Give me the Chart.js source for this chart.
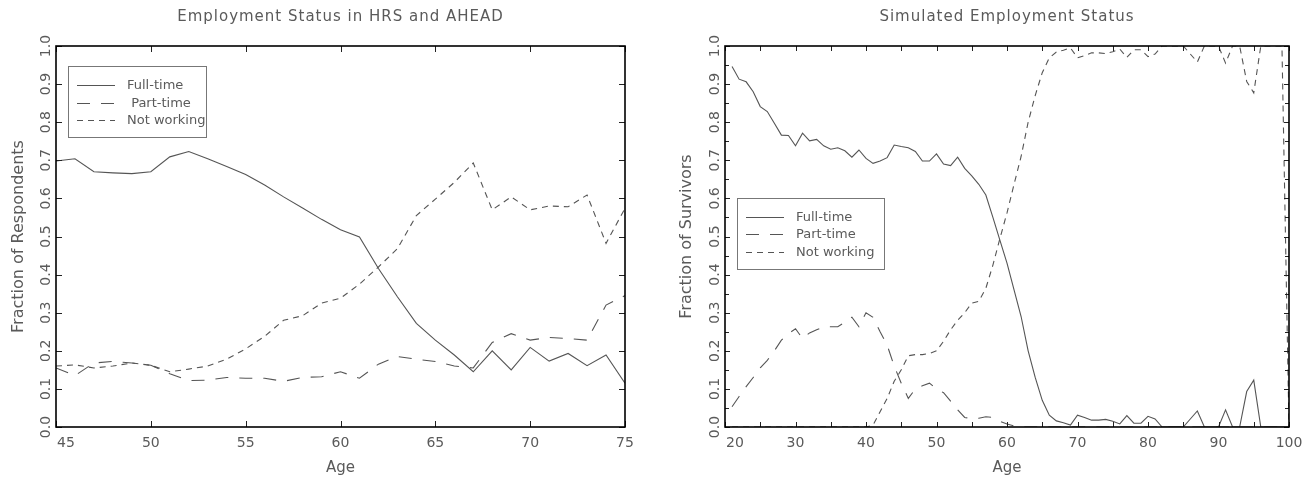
<!DOCTYPE html>
<html>
<head>
<meta charset="utf-8">
<script src="https://cdn.jsdelivr.net/npm/chart.js@4.4.1/dist/chart.umd.min.js"></script>
<style>
  html, body { margin: 0; padding: 0; background: #fff; }
  #wrap { position: relative; width: 1312px; height: 483px; overflow: hidden; }
  canvas { position: absolute; top: 0; }
  #survey { left: 0; }
  #simulated { left: 656px; }
</style>
</head>
<body>
<div id="wrap">
  <canvas id="survey" width="656" height="483"></canvas>
  <canvas id="simulated" width="656" height="483"></canvas>
</div>
<script>
// ---- Survey data (HRS and AHEAD), ages 45-75 ----
const surveyAges = [45,46,47,48,49,50,51,52,53,54,55,56,57,58,59,60,61,62,63,64,65,66,67,68,69,70,71,72,73,74,75];
const surveyFullTime = [0.698,0.704,0.670,0.667,0.665,0.670,0.709,0.723,0.704,0.684,0.663,0.635,0.604,0.575,0.545,0.518,0.499,0.416,0.342,0.272,0.228,0.189,0.145,0.200,0.150,0.209,0.173,0.193,0.161,0.189,0.115];
const surveyPartTime = [0.155,0.135,0.168,0.172,0.168,0.162,0.140,0.122,0.123,0.130,0.128,0.128,0.120,0.130,0.132,0.145,0.128,0.165,0.185,0.178,0.172,0.160,0.155,0.222,0.245,0.228,0.235,0.232,0.228,0.320,0.345];
const surveyNotWorking = [0.160,0.163,0.155,0.160,0.168,0.162,0.145,0.152,0.160,0.178,0.205,0.238,0.280,0.292,0.325,0.338,0.375,0.420,0.468,0.555,0.598,0.642,0.693,0.570,0.604,0.570,0.580,0.578,0.609,0.482,0.574];

// ---- Simulated model, ages 21-100 ----
const simAges = [21,22,23,24,25,26,27,28,29,30,31,32,33,34,35,36,37,38,39,40,41,42,43,44,45,46,47,48,49,50,51,52,53,54,55,56,57,58,59,60,61,62,63,64,65,66,67,68,69,70,71,72,73,74,75,76,77,78,79,80,81,82,83,84,85,86,87,88,89,90,91,92,93,94,95,96,97,98,99,100];
const simFullTime = [0.946,0.913,0.906,0.880,0.841,0.828,0.797,0.766,0.765,0.738,0.771,0.751,0.755,0.738,0.729,0.733,0.725,0.708,0.727,0.705,0.692,0.698,0.707,0.740,0.736,0.733,0.723,0.698,0.698,0.717,0.690,0.686,0.708,0.679,0.659,0.637,0.609,0.550,0.490,0.430,0.360,0.290,0.200,0.130,0.070,0.031,0.016,0.011,0.005,0.031,0.025,0.018,0.018,0.020,0.015,0.008,0.030,0.010,0.010,0.028,0.021,0,0,0,0,0.021,0.042,0,0,0,0.045,0,0,0.093,0.123,0,0,0,0,0];
const simPartTime = [0.053,0.080,0.106,0.130,0.155,0.175,0.200,0.228,0.245,0.258,0.232,0.247,0.255,0.263,0.263,0.263,0.275,0.288,0.263,0.300,0.288,0.250,0.215,0.160,0.115,0.075,0.100,0.108,0.115,0.100,0.090,0.068,0.045,0.025,0.022,0.023,0.027,0.025,0.015,0.008,0.003,0,0,0,0,0,0,0,0,0,0,0,0,0,0,0,0,0,0,0,0,0,0,0,0,0,0,0,0,0,0,0,0,0,0,0,0,0,0,0];
const simNotWorking = [0,0,0,0,0,0,0,0,0,0,0,0,0,0,0,0,0,0,0,0,0.005,0.040,0.075,0.120,0.150,0.187,0.190,0.190,0.193,0.200,0.225,0.255,0.280,0.300,0.325,0.330,0.364,0.425,0.495,0.562,0.637,0.710,0.800,0.870,0.930,0.969,0.984,0.989,0.995,0.969,0.975,0.982,0.982,0.980,0.985,0.992,0.970,0.990,0.990,0.972,0.979,1,1,1,1,0.979,0.958,1,1,1,0.955,1,1,0.907,0.877,1,1,1,1,0];

// ---- Axis ticks and labels ----
const surveyAgeTicks = [45,50,55,60,65,70,75];
const simAgeTicks = [20,30,40,50,60,70,80,90,100];
const simAgeMinorTicks = [25,35,45,55,65,75,85,95];
const fractionTicks = [0,0.1,0.2,0.3,0.4,0.5,0.6,0.7,0.8,0.9,1.0];
const fractionTickLabels = ['0.0','0.1','0.2','0.3','0.4','0.5','0.6','0.7','0.8','0.9','1.0'];
const fractionMinorTicks = [0.05,0.15,0.25,0.35,0.45,0.55,0.65,0.75,0.85,0.95];

const FONT = '"DejaVu Sans", "Liberation Sans", sans-serif';
const INK = '#5a5a5a';
const LINE = '#555';
const DASH_PART = [13, 11];
const DASH_NOT = [6, 5];

// Box frame, inward ticks, rotated tick labels, title and boxed legend.
const framePlugin = {
  id: 'frame',
  afterDatasetsDraw(chart, args, o) {
    const { ctx, chartArea: a } = chart;
    const xs = chart.scales.x, ys = chart.scales.y;
    ctx.save();

    ctx.strokeStyle = '#222';
    ctx.lineWidth = 1;
    ctx.beginPath();
    const xTick = (v, len) => {
      const p = Math.round(xs.getPixelForValue(v)) + 0.5;
      ctx.moveTo(p, a.bottom); ctx.lineTo(p, a.bottom - len);
      ctx.moveTo(p, a.top); ctx.lineTo(p, a.top + len);
    };
    const yTick = (v, len) => {
      const p = Math.round(ys.getPixelForValue(v)) + 0.5;
      ctx.moveTo(a.left, p); ctx.lineTo(a.left + len, p);
      ctx.moveTo(a.right, p); ctx.lineTo(a.right - len, p);
    };
    xs.ticks.forEach(t => xTick(t.value, o.tickLen));
    (o.xMinor || []).forEach(v => xTick(v, o.tickLen));
    ys.ticks.forEach(t => yTick(t.value, o.tickLen));
    (o.yMinor || []).forEach(v => yTick(v, o.minorLen));
    ctx.stroke();

    ctx.strokeStyle = '#000';
    ctx.lineWidth = 1.6;
    ctx.strokeRect(a.left, a.top, a.right - a.left, a.bottom - a.top);

    // x tick labels
    ctx.fillStyle = INK;
    ctx.font = '14px ' + FONT;
    ctx.textBaseline = 'alphabetic';
    xs.ticks.forEach((t, i) => {
      const p = xs.getPixelForValue(t.value);
      ctx.textAlign = i === 0 ? 'left' : 'center';
      ctx.fillText(String(t.value), i === 0 ? p + 1 : p, a.bottom + 20);
    });
    // y tick labels, rotated to read upward
    ys.ticks.forEach((t, i) => {
      const p = ys.getPixelForValue(t.value);
      ctx.save();
      ctx.translate(a.left - 6, p);
      ctx.rotate(-Math.PI / 2);
      ctx.textAlign = 'center';
      ctx.fillText(fractionTickLabels[i], 0, 0);
      ctx.restore();
    });

    // title
    ctx.font = '15px ' + FONT;
    ctx.textAlign = 'center';
    if ('letterSpacing' in ctx) ctx.letterSpacing = '1px';
    ctx.fillText(o.title, (a.left + a.right) / 2, 21);
    if ('letterSpacing' in ctx) ctx.letterSpacing = '0px';

    // legend
    const L = o.legend;
    const bx = a.left + L.dx, by = a.top + L.dy;
    ctx.strokeStyle = '#777';
    ctx.lineWidth = 1;
    ctx.strokeRect(Math.round(bx) + 0.5, Math.round(by) + 0.5, L.w, L.h);
    ctx.font = '13px ' + FONT;
    ctx.textAlign = 'left';
    ctx.textBaseline = 'middle';
    chart.data.datasets.forEach((ds, i) => {
      const ry = Math.round(by + L.row0 + i * L.rowGap) + 0.5;
      ctx.strokeStyle = LINE;
      ctx.setLineDash(ds.borderDash || []);
      ctx.beginPath();
      ctx.moveTo(bx + 9, ry);
      ctx.lineTo(bx + 47, ry);
      ctx.stroke();
      ctx.setLineDash([]);
      ctx.fillText(ds.label, bx + 59, ry);
    });
    ctx.restore();
  }
};

function series(label, ages, values, dash) {
  return {
    label,
    data: ages.map((age, i) => ({ x: age, y: values[i] })),
    borderColor: LINE,
    borderWidth: 1.1,
    borderDash: dash,
    pointRadius: 0,
    tension: 0,
    fill: false
  };
}

function makeChart(id, cfg) {
  return new Chart(document.getElementById(id), {
    type: 'line',
    data: { datasets: cfg.datasets },
    plugins: [framePlugin],
    options: {
      responsive: false,
      animation: false,
      devicePixelRatio: 1,
      layout: { padding: { top: 46, right: cfg.padRight, bottom: 0, left: 0 } },
      plugins: {
        legend: { display: false },
        tooltip: { enabled: false },
        frame: cfg.frame
      },
      scales: {
        x: {
          type: 'linear',
          min: cfg.xMin, max: cfg.xMax,
          grid: { display: false },
          border: { display: false },
          ticks: { display: false },
          afterBuildTicks: s => { s.ticks = cfg.xTicks.map(v => ({ value: v })); },
          afterFit: s => { s.height = 56; },
          title: {
            display: true, text: 'Age', color: INK,
            font: { family: FONT, size: 15 },
            padding: { top: 0, bottom: 6 }
          }
        },
        y: {
          type: 'linear',
          min: 0, max: 1,
          grid: { display: false },
          border: { display: false },
          ticks: { display: false },
          afterBuildTicks: s => { s.ticks = fractionTicks.map(v => ({ value: v })); },
          afterFit: s => { s.width = cfg.yWidth; },
          title: {
            display: true, text: cfg.yTitle, color: INK,
            font: { family: FONT, size: 16 },
            padding: { top: cfg.yTitlePad, bottom: 0 }
          }
        }
      }
    }
  });
}

makeChart('survey', {
  datasets: [
    series('Full-time', surveyAges, surveyFullTime, []),
    series(' Part-time', surveyAges, surveyPartTime, DASH_PART),
    series('Not working', surveyAges, surveyNotWorking, DASH_NOT)
  ],
  xMin: 45, xMax: 75, xTicks: surveyAgeTicks,
  padRight: 31, yWidth: 56, yTitlePad: 9,
  yTitle: 'Fraction of Respondents',
  frame: {
    title: 'Employment Status in HRS and AHEAD',
    tickLen: 6, minorLen: 4,
    legend: { dx: 12, dy: 20, w: 138, h: 71, row0: 19, rowGap: 17.6 }
  }
});

makeChart('simulated', {
  datasets: [
    series('Full-time', simAges, simFullTime, []),
    series('Part-time', simAges, simPartTime, DASH_PART),
    series('Not working', simAges, simNotWorking, DASH_NOT)
  ],
  xMin: 20, xMax: 100, xTicks: simAgeTicks,
  padRight: 23, yWidth: 69, yTitlePad: 21,
  yTitle: 'Fraction of Survivors',
  frame: {
    title: 'Simulated Employment Status',
    tickLen: 5, minorLen: 4,
    xMinor: simAgeMinorTicks, yMinor: fractionMinorTicks,
    legend: { dx: 12, dy: 152, w: 147, h: 71, row0: 18.5, rowGap: 17.6 }
  }
});
</script>
</body>
</html>
